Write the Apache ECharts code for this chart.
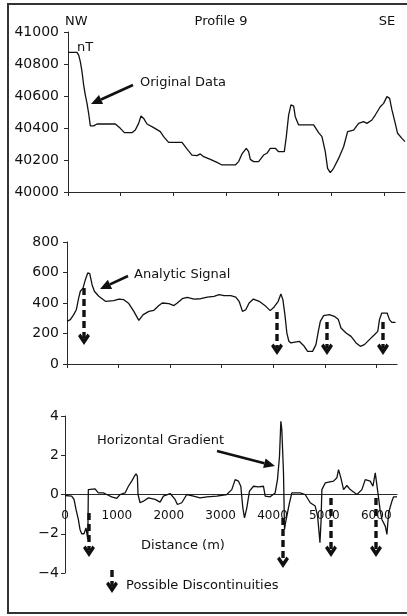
<!DOCTYPE html>
<html>
<head>
<meta charset="utf-8">
<script src="https://cdn.jsdelivr.net/npm/echarts@6/dist/echarts.min.js"></script>
<style>
  html, body { margin: 0; padding: 0; background: #fff; }
  #chart { width: 407px; height: 616px; }
</style>
</head>
<body>
<div id="chart"></div>
<script>
// Profile 9: total field, analytic signal and horizontal gradient along the line (NW -> SE)
const xTicks = [0, 1000, 2000, 3000, 4000, 5000, 6000];

// Original data (nT)
const fieldDist = [0,171,203,234,266,297,329,361,392,424,487,551,899,994,1070,1215,1278,1342,1386,1437,1500,1627,1753,1816,1911,2165,2259,2354,2449,2513,2576,2703,2829,2924,3177,3241,3304,3386,3430,3462,3525,3620,3715,3778,3842,3937,4000,4108,4146,4190,4234,4285,4316,4380,4665,4759,4823,4886,4930,4981,5044,5139,5234,5310,5424,5519,5614,5677,5772,5835,5930,5994,6057,6108,6152,6215,6259,6342,6400];
const fieldVal = [40873,40873,40856,40815,40752,40669,40606,40554,40492,40413,40413,40425,40425,40398,40371,40371,40387,40429,40475,40460,40425,40402,40377,40346,40310,40310,40269,40231,40227,40238,40221,40204,40185,40169,40169,40190,40238,40273,40252,40204,40190,40190,40231,40242,40273,40273,40252,40252,40346,40481,40544,40537,40471,40419,40419,40371,40346,40252,40148,40121,40148,40210,40283,40377,40387,40429,40440,40429,40450,40481,40533,40554,40596,40585,40513,40429,40367,40335,40315];

// Analytic signal
const asDist = [0,65,130,181,227,259,311,356,402,441,486,531,616,745,907,1005,1102,1199,1296,1393,1478,1588,1685,1782,1847,1977,2074,2139,2236,2333,2463,2592,2722,2852,2949,3046,3176,3273,3338,3403,3467,3532,3616,3727,3856,3940,4018,4096,4148,4187,4226,4264,4303,4342,4375,4504,4601,4666,4763,4828,4874,4913,4977,5088,5185,5263,5314,5412,5509,5606,5690,5768,5865,5962,6027,6060,6105,6209,6254,6299,6371];
const asVal = [280,291,324,356,433,477,498,553,597,592,520,477,444,411,415,426,422,396,345,286,324,345,352,383,400,396,383,400,428,437,426,428,439,444,455,448,448,439,411,345,356,400,426,411,378,350,374,411,459,422,324,203,149,138,149,149,116,83,83,127,214,280,317,324,313,291,236,203,181,138,116,127,160,192,214,291,334,334,291,273,273];

// Horizontal gradient
const hgDist = [0,32,129,174,212,257,289,322,367,405,430,440,450,482,579,643,740,804,900,997,1061,1158,1222,1286,1338,1370,1395,1408,1447,1511,1608,1736,1833,1897,2026,2122,2167,2251,2347,2476,2605,2733,2926,3119,3215,3280,3344,3389,3428,3460,3505,3556,3633,3730,3826,3859,3955,4051,4096,4135,4161,4180,4212,4232,4251,4289,4328,4373,4534,4630,4727,4823,4870,4915,4935,4952,5016,5177,5241,5273,5318,5370,5434,5498,5627,5723,5788,5884,5936,5981,6013,6032,6077,6109,6174,6206,6238,6302,6334,6400];
const hgVal = [-0.05,-0.12,-0.08,-0.25,-0.76,-1.27,-1.78,-2.0,-2.0,-1.7,-1.64,-2.29,0.25,0.34,0.29,0.08,0.08,0,-0.12,-0.2,0,0.08,0.42,0.68,0.93,1.05,0.93,0,-0.42,-0.34,-0.17,-0.25,-0.39,-0.08,0.05,-0.25,-0.51,-0.42,0,-0.08,-0.17,-0.12,-0.08,0,0.25,0.76,0.68,0.42,-0.68,-1.19,-0.68,0.17,0.42,0.39,0.42,-0.08,-0.12,0.08,0.76,1.95,3.73,3.3,1.1,-1.78,-1.44,-0.93,-0.42,0.08,0.08,0,-0.42,-0.59,-1.1,-2.46,-1.4,0.25,0.59,0.68,0.85,1.27,0.85,0.25,0.46,0.25,0,0.25,0.76,0.68,0.42,1.1,1.19,0.08,-0.85,-1.27,-1.61,-2.03,-0.93,-0.34,-0.12,-0.12];

const FONT = 'DejaVu Sans';
const INK = '#111';
const AXIS = '#2a2a2a';
const minus = v => String(v).replace('-', '\u2212');
const zip = (a, b) => a.map((d, i) => [d, b[i]]);

const grids = [
  { left: 68, top: 32, width: 337, height: 160 },
  { left: 67, top: 242, width: 330, height: 122 },
  { left: 65, top: 416, width: 332, height: 157 }
];

// the distance axis of the gradient panel sits on its zero line (half-way up the -4..4 range)
const gradZeroOffset = -grids[2].height / 2;

function xAxisFor(i, withLabels) {
  return {
    type: 'value', gridIndex: i, min: 0, max: 6400,
    offset: withLabels ? gradZeroOffset : 0,
    axisLine: { onZero: false, lineStyle: { color: AXIS, width: 1 } },
    axisTick: withLabels ? { show: false } : { show: true, length: 4, customValues: xTicks, lineStyle: { color: AXIS } },
    axisLabel: withLabels
      ? { show: true, customValues: xTicks, margin: 15, fontFamily: FONT, fontSize: 12, color: INK, formatter: v => String(v) }
      : { show: false },
    splitLine: { show: false }
  };
}
function yAxisFor(i, min, max, interval, margin) {
  return {
    type: 'value', gridIndex: i, min, max, interval,
    axisLine: { show: true, onZero: false, lineStyle: { color: AXIS, width: 1 } },
    axisTick: { show: true, length: 4, lineStyle: { color: AXIS } },
    axisLabel: { margin, fontFamily: FONT, fontSize: 14, color: INK, formatter: minus },
    splitLine: { show: false }
  };
}

const line = (i, data) => ({
  type: 'line', xAxisIndex: i, yAxisIndex: i, data, showSymbol: false, silent: true,
  lineStyle: { color: INK, width: 1.3 }, animation: false
});

// annotation helpers
function text(str, x, y, align) {
  return { type: 'text', x, y, style: { text: str, fontFamily: FONT, fontSize: 13, fill: INK, align: align || 'left', verticalAlign: 'middle' } };
}
function solidArrow(x1, y1, x2, y2) {
  const a = Math.atan2(y2 - y1, x2 - x1), L = 11, W = 5;
  const bx = x2 - L * Math.cos(a), by = y2 - L * Math.sin(a);
  const px = -Math.sin(a) * W, py = Math.cos(a) * W;
  return [
    { type: 'line', shape: { x1, y1, x2: bx, y2: by }, style: { stroke: INK, lineWidth: 2.6 } },
    { type: 'polygon', shape: { points: [[x2, y2], [bx + px, by + py], [bx - px, by - py]] }, style: { fill: INK } }
  ];
}
function dashedArrow(x, y1, y2) {
  return [
    { type: 'line', shape: { x1: x, y1, x2: x, y2: y2 - 7 }, style: { stroke: INK, lineWidth: 3.4, lineDash: [7, 4] } },
    { type: 'polygon', shape: { points: [[x - 6, y2 - 9], [x - 3.5, y2 - 11.5], [x, y2 - 6.5], [x + 3.5, y2 - 11.5], [x + 6, y2 - 9], [x, y2]] }, style: { fill: INK } }
  ];
}

const graphic = [
  { type: 'rect', shape: { x: 8, y: 4, width: 430, height: 609 }, style: { fill: 'none', stroke: '#333', lineWidth: 2 } },
  text('NW', 65, 22), text('Profile 9', 221, 22, 'center'), text('SE', 387, 22, 'center'),
  text('nT', 77, 48),
  text('Original Data', 140, 83),
  ...solidArrow(133, 85, 91, 104),
  text('Analytic Signal', 134, 275),
  ...solidArrow(128, 276, 100, 289),
  ...dashedArrow(84, 288, 345), ...dashedArrow(277, 312, 355), ...dashedArrow(327, 322, 355), ...dashedArrow(383, 322, 355),
  text('Horizontal Gradient', 97, 441),
  ...solidArrow(217, 451, 275, 466),
  ...dashedArrow(89, 513, 557), ...dashedArrow(283, 518, 568), ...dashedArrow(331, 498, 557), ...dashedArrow(376, 498, 557),
  text('Distance (m)', 183, 546, 'center'),
  ...dashedArrow(112, 570, 593),
  text('Possible Discontinuities', 126, 586)
];

const chart = echarts.init(document.getElementById('chart'), null, { renderer: 'canvas' });
chart.setOption({
  animation: false,
  backgroundColor: '#fff',
  grid: grids,
  xAxis: [xAxisFor(0, false), xAxisFor(1, false), xAxisFor(2, true)],
  yAxis: [
    yAxisFor(0, 40000, 41000, 200, 9),
    yAxisFor(1, 0, 800, 200, 8),
    yAxisFor(2, -4, 4, 2, 6)
  ],
  series: [line(0, zip(fieldDist, fieldVal)), line(1, zip(asDist, asVal)), line(2, zip(hgDist, hgVal))],
  graphic
});
</script>
</body>
</html>
